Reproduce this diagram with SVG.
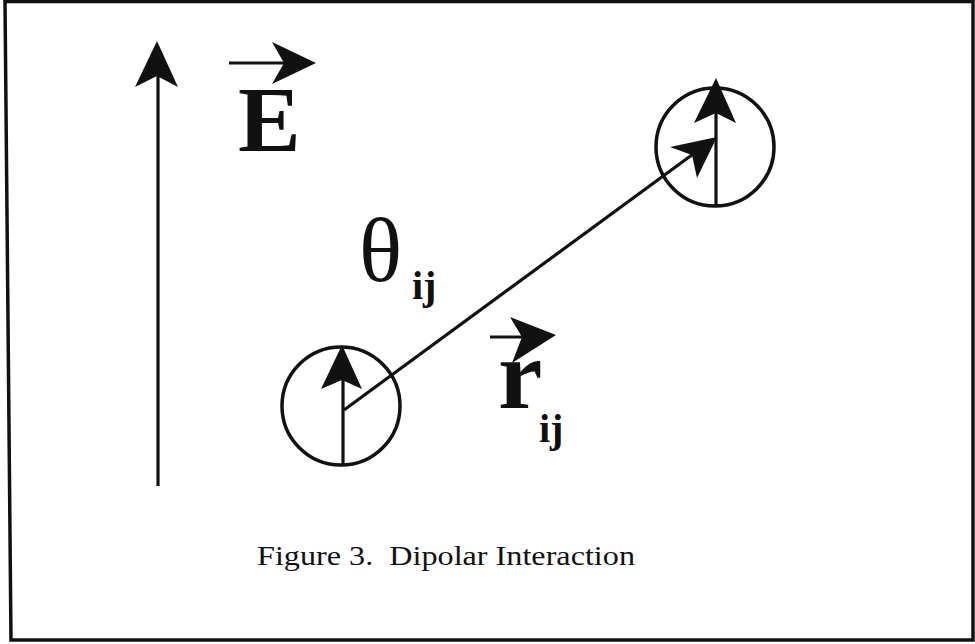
<svg xmlns="http://www.w3.org/2000/svg" width="975" height="644" viewBox="0 0 975 644">
<style>
.ln{stroke:#111;stroke-width:3.2;fill:none;stroke-linecap:butt}
.head{fill:#111;stroke:none}
.circ{stroke:#111;stroke-width:3.5;fill:none}
.big{font-family:'Times New Roman','Liberation Serif',Tinos,Times,serif;fill:#111}
.sub{font-family:'Times New Roman','Liberation Serif',Tinos,Times,serif;font-weight:bold;font-size:40px;fill:#111}
</style>
<rect width="975" height="644" fill="#fff"/>
<g id="frame">
<path d="M5,1.5 L973,1.5 L973,640 L11,640 Z" fill="none" stroke="#111" stroke-width="3.5"/>
</g>
<g id="field-arrow">
<line class="ln" x1="158" y1="486" x2="158" y2="70"/>
<path class="head" d="M157,41 L178,87 L157,76 L135,87 Z"/>
</g>
<g id="label-E">
<line class="ln" x1="229" y1="63" x2="290" y2="63"/>
<path class="head" d="M316,63 L272,84 L284,63 L272,42 Z"/>
<text class="big" x="238" y="151" font-size="94" font-weight="bold">E</text>
</g>
<g id="dipole-i">
<circle class="circ" cx="341" cy="406" r="59"/>
<line class="ln" x1="343" y1="466" x2="343" y2="372"/>
<path class="head" d="M342,345 L362,389 L342,380 L321,389 Z"/>
</g>
<g id="dipole-j">
<circle class="circ" cx="715" cy="147" r="59"/>
<line class="ln" x1="716" y1="207" x2="716" y2="105"/>
<path class="head" d="M716,78 L736,123 L716,113 L694,123 Z"/>
</g>
<g id="connectors">
<line class="ln" x1="344" y1="410" x2="700" y2="149"/>
<path class="head" d="M717,137 L697,178 L692,155 L670,147 Z"/>
</g>
<g id="label-theta">
<text class="big" x="359" y="281" font-size="90">θ</text>
<text class="sub" x="412" y="299">ij</text>
</g>
<g id="label-r">
<line class="ln" x1="490" y1="337" x2="530" y2="337"/>
<path class="head" d="M556,335 L512,363 L522,337 L510,317 Z"/>
<text class="big" x="498" y="408" font-size="100" font-weight="bold">r</text>
<text class="sub" x="539" y="442">ij</text>
</g>
<g id="caption">
<text class="big" x="257" y="565" font-size="27" textLength="378" lengthAdjust="spacingAndGlyphs" xml:space="preserve">Figure 3.  Dipolar Interaction</text>
</g>
</svg>
